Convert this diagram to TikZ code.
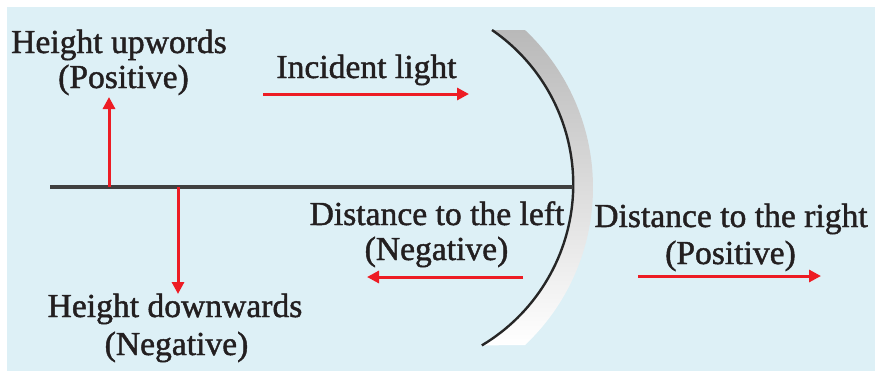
\documentclass[tikz,border=0pt]{standalone}
\usepackage{fontspec}
\setmainfont{Liberation Serif}
\newfontfamily\lblfont{Liberation Serif}[FakeBold=1.3]
\usepackage{tikz}
\usetikzlibrary{arrows.meta}
\definecolor{panelbg}{RGB}{221,240,246}
\definecolor{signred}{RGB}{237,28,36}
\definecolor{axisgray}{RGB}{64,64,64}
\definecolor{inktext}{RGB}{35,31,32}
\tikzset{
  lbl/.style={anchor=base, text=inktext, inner sep=0pt, font=\lblfont\fontsize{16.8}{20}\selectfont},
  signarrow/.style={->, signred, line width=1.5pt},
}

\begin{document}
\begin{tikzpicture}[x=0.5pt, y=-0.5pt, >={Triangle[length=6pt,width=6pt]}]
    \def\Rin{187.4}
    \def\Rout{216.4}
    \useasboundingbox (0,0) rectangle (875,371);
    \fill[panelbg] (7,7) rectangle (875,371);

    % concave mirror
    \coordinate (Mtop) at (492,30);
    \coordinate (Mbot) at (525,345);
    \coordinate (P) at (573,187);
    \shade[top color=gray!55, middle color=gray!85, bottom color=white]
      (Mtop) arc[start angle=-55.5, end angle=59.2, radius=\Rin]
      -- (Mbot) arc[start angle=46.7, end angle=-46.7, radius=\Rout] -- cycle;
    \draw[black!85, line width=1.2pt] (Mtop) arc[start angle=-55.5, end angle=59.2, radius=\Rin];

    % principal axis
    \coordinate (O) at (50,187);
    \draw[axisgray, line width=1.6pt] (O) -- (P);

    % sign arrows
    \coordinate (up0) at (109,187);
    \coordinate (up1) at (109,97);
    \coordinate (dn0) at (178,187);
    \coordinate (dn1) at (178,294);
    \coordinate (in0) at (263,94);
    \coordinate (in1) at (469,94);
    \coordinate (lf0) at (523,277);
    \coordinate (lf1) at (367,277);
    \coordinate (rt0) at (638,276);
    \coordinate (rt1) at (821,276);
    \draw[signarrow] (up0) -- (up1);
    \draw[signarrow] (dn0) -- (dn1);
    \draw[signarrow] (in0) -- (in1);
    \draw[signarrow] (lf0) -- (lf1);
    \draw[signarrow] (rt0) -- (rt1);

    \node[lbl] (upA) at (119,53) {Height upwords};
    \node[lbl] (upB) at (123.5,88) {(Positive)};
    \node[lbl] (inc) at (366.5,78) {Incident light};
    \node[lbl] (leftA) at (437,225) {Distance to the left};
    \node[lbl] (leftB) at (436.5,260) {(Negative)};
    \node[lbl] (rightA) at (731,227) {Distance to the right};
    \node[lbl] (rightB) at (730.5,264) {(Positive)};
    \node[lbl] (dnA) at (175,317) {Height downwards};
    \node[lbl] (dnB) at (176.5,355) {(Negative)};
\end{tikzpicture}
\end{document}
